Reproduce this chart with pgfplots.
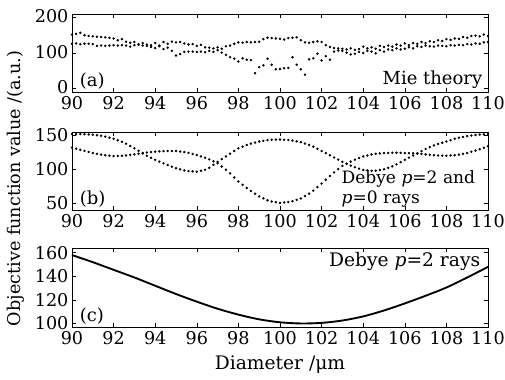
\documentclass[border=0pt]{standalone}
\usepackage{fontspec}
\setmainfont{DejaVu Serif}
\usepackage{pgfplots}
\pgfplotsset{compat=1.18}
\begin{document}
\begin{tikzpicture}[font=\fontsize{13.5}{16}\selectfont]
\useasboundingbox (0,0) rectangle (378.75pt,284.25pt);
\pgfplotsset{panel/.style={
  scale only axis, width=312pt, height=58.5pt,
  anchor=south west,
  xmin=90, xmax=110, xtick={90,92,...,110},
  tick align=inside, major tick length=3pt,
  tick style={black, line width=0.4pt},
  axis line style={line width=0.5pt},
  /pgf/number format/assume math mode=true,
  tick label style={font=\fontsize{13.2}{15}\selectfont},
  xticklabel style={inner xsep=1pt, inner ysep=0pt, yshift=-3pt},
  yticklabel style={inner xsep=2.5pt, inner ysep=0pt},
  clip=false,
}}
% ---------------- panel (a)
\begin{axis}[panel, at={(54pt,215.25pt)}, ymin=-10, ymax=210, ytick={0,100,200},
  yticklabel style={yshift=1pt}]
\addplot[only marks, mark=*, mark size=0.7pt, black] table {
x y
90.0 152
90.2 154
90.4 157
90.6 150
90.8 148
91.0 147
91.2 146
91.4 145
91.6 144
91.8 143
92.0 141
92.2 136
92.4 139
92.6 132
92.8 129
93.0 131
93.2 125
93.4 128
93.6 124
93.8 122
94.0 128
94.2 121
94.4 131
94.6 126
94.8 132
95.0 130
95.2 131
95.4 127
95.6 124
95.8 125
96.0 120
96.2 123
96.4 116
96.6 115
96.8 113
97.0 116
97.2 112
97.4 119
97.6 121
97.8 126
98.0 130
98.2 129
98.4 131
98.6 130
98.8 131
99.0 132
99.2 139
99.4 143
99.6 142
99.8 141
100.0 140
100.2 138
100.4 142
100.6 143
100.8 144
101.0 136
101.2 130
101.4 129
101.6 131
101.8 133
102.0 131
102.2 122
102.4 117
102.6 114
102.8 113
103.0 112
103.2 110
103.4 113
103.6 109
103.8 111
104.0 118
104.2 113
104.4 116
104.6 112
104.8 120
105.0 117
105.2 121
105.4 118
105.6 124
105.8 121
106.0 127
106.2 122
106.4 128
106.6 126
106.8 131
107.0 128
107.2 133
107.4 131
107.6 136
107.8 134
108.0 139
108.2 137
108.4 141
108.6 140
108.8 145
109.0 143
109.2 148
109.4 149
109.6 147
109.8 152
110.0 148
};
\addplot[only marks, mark=*, mark size=0.7pt, black] table {
x y
90.0 126
90.2 127
90.4 125
90.6 126
90.8 126
91.0 125
91.2 120
91.4 121
91.6 120
91.8 121
92.0 122
92.2 121
92.4 122
92.6 121
92.8 118
93.0 122
93.2 123
93.4 121
93.6 120
93.8 117
94.0 114
94.2 119
94.4 111
94.6 115
94.8 106
95.0 93
95.2 97
95.4 103
95.6 104
95.8 104
96.0 103
96.2 104
96.4 102
96.6 106
96.8 103
97.0 108
97.2 101
97.4 95
97.6 88
97.8 84
98.0 76
98.2 85
98.4 81
98.6 80
98.8 43
99.0 60
99.2 65
99.4 84
99.6 67
99.8 54
100.0 55
100.2 57
100.4 58
100.6 88
100.8 67
101.0 54
101.2 39
101.4 82
101.6 85
101.8 98
102.0 79
102.2 91
102.4 81
102.6 104
102.8 107
103.0 106
103.2 101
103.4 96
103.6 98
103.8 103
104.0 100
104.2 106
104.4 104
104.6 99
104.8 108
105.0 104
105.2 110
105.4 108
105.6 113
105.8 110
106.0 112
106.2 116
106.4 113
106.6 119
106.8 117
107.0 121
107.2 119
107.4 118
107.6 121
107.8 120
108.0 119
108.2 122
108.4 121
108.6 123
108.8 122
109.0 125
109.2 124
109.4 127
109.6 126
109.8 130
110.0 131
};
\node[anchor=south west, inner sep=1pt] at (rel axis cs:0.015,0.02) {(a)};
\node[anchor=south east, inner sep=1pt] at (rel axis cs:0.99,0.02) {Mie theory};
\end{axis}
% ---------------- panel (b)
\begin{axis}[panel, at={(54pt,126.75pt)}, ymin=40, ymax=155, ytick={50,100,150}]
\addplot[only marks, mark=*, mark size=0.7pt, black] table {
x y
90.0 152
90.2 152
90.4 152
90.6 151.8
90.8 151.4
91.0 151
91.2 150.2
91.4 149.4
91.6 148.2
91.8 146.6
92.0 145
92.2 142.8
92.4 140.6
92.6 137.8
92.8 134.4
93.0 131
93.2 127.2
93.4 123.4
93.6 120
93.8 117
94.0 114
94.2 111.4
94.4 108.8
94.6 106.3
94.8 103.9
95.0 101.5
95.2 99.9
95.4 98.3
95.6 97.3
95.8 96.9
96.0 96.5
96.2 97.9
96.4 99.3
96.6 102.2
96.8 106.6
97.0 111
97.2 115
97.4 119
97.6 123
97.8 127
98.0 131
98.2 133.4
98.4 135.8
98.6 137.8
98.8 139.4
99.0 141
99.2 142
99.4 143
99.6 143.6
99.8 143.8
100.0 144
100.2 143.6
100.4 143.2
100.6 142.4
100.8 141.2
101.0 140
101.2 138
101.4 136
101.6 133.4
101.8 130.2
102.0 127
102.2 123.8
102.4 120.6
102.6 117.4
102.8 114.2
103.0 111
103.2 108.2
103.4 105.4
103.6 103
103.8 101
104.0 99
104.2 98.4
104.4 97.8
104.6 98
104.8 99
105.0 100
105.2 102.2
105.4 104.4
105.6 107.2
105.8 110.6
106.0 114
106.2 117.2
106.4 120.4
106.6 123.6
106.8 126.8
107.0 130
107.2 132.6
107.4 135.2
107.6 137.4
107.8 139.2
108.0 141
108.2 143
108.4 145
108.6 146.6
108.8 147.8
109.0 149
109.2 149.8
109.4 150.6
109.6 151.2
109.8 151.6
110.0 152
};
\addplot[only marks, mark=*, mark size=0.7pt, black] table {
x y
90.0 132
90.2 130.4
90.4 128.8
90.6 127.2
90.8 125.6
91.0 124
91.2 122.8
91.4 121.6
91.6 120.7
91.8 120.1
92.0 119.5
92.2 119.7
92.4 119.9
92.6 120.4
92.8 121.2
93.0 122
93.2 123
93.4 124
93.6 124.8
93.8 125.4
94.0 126
94.2 126.4
94.4 126.8
94.6 127
94.8 127
95.0 127
95.2 126.2
95.4 125.4
95.6 124.2
95.8 122.6
96.0 121
96.2 119
96.4 117
96.6 114.6
96.8 111.8
97.0 109
97.2 104.2
97.4 99.4
97.6 94
97.8 88
98.0 82
98.2 77.2
98.4 72.4
98.6 68
98.8 64
99.0 60
99.2 57.2
99.4 54.4
99.6 52.5
99.8 51.5
100.0 50.5
100.2 51.1
100.4 51.7
100.6 53
100.8 55
101.0 57
101.2 60.6
101.4 64.2
101.6 68.6
101.8 73.8
102.0 79
102.2 84.6
102.4 90.2
102.6 95.4
102.8 100.2
103.0 105
103.2 108.2
103.4 111.4
103.6 114.2
103.8 116.6
104.0 119
104.2 120.4
104.4 121.8
104.6 122.8
104.8 123.4
105.0 124
105.2 124.2
105.4 124.4
105.6 124.4
105.8 124.2
106.0 124
106.2 123.8
106.4 123.6
106.6 123.2
106.8 122.6
107.0 122
107.2 121.4
107.4 120.8
107.6 120.4
107.8 120.2
108.0 120
108.2 120.4
108.4 120.8
108.6 121.6
108.8 122.8
109.0 124
109.2 125.8
109.4 127.6
109.6 129.6
109.8 131.8
110.0 134
};
\node[anchor=south west, inner sep=1pt] at (rel axis cs:0.015,0.02) {(b)};
\node[anchor=north west, inner sep=0pt, align=left, font=\fontsize{12.8}{14.5}\selectfont] at (axis cs:102.95,98) {Debye \textit{p}=2 and\\\textit{p}=0 rays};
\end{axis}
% ---------------- panel (c)
\begin{axis}[panel, at={(54pt,39pt)}, height=59.25pt, ymin=97, ymax=164, ytick={100,120,140,160},
  xlabel={Diameter /μm}, xlabel style={yshift=-5pt, font=\fontsize{14}{16}\selectfont}]
\addplot[black, line width=1.4pt, smooth] table {
x y
90 158
91 152
92 145.5
93 139
94 132
95 125
96 118.5
97 112.5
98 107.5
99 103.5
100 101
101 100
102 100.5
103 102.5
104 106
105 111
106 117
107 123.5
108 130.5
109 139
110 148
};
\node[anchor=south west, inner sep=1pt] at (rel axis cs:0.015,0.02) {(c)};
\node[anchor=north east, inner sep=1pt, font=\fontsize{14}{16}\selectfont] at (rel axis cs:0.985,0.97) {Debye \textit{p}=2 rays};
\end{axis}
\node[rotate=90, font=\fontsize{13.2}{16}\selectfont] at (12pt,143pt) {Objective function value /(a.u.)};
\end{tikzpicture}
\end{document}
